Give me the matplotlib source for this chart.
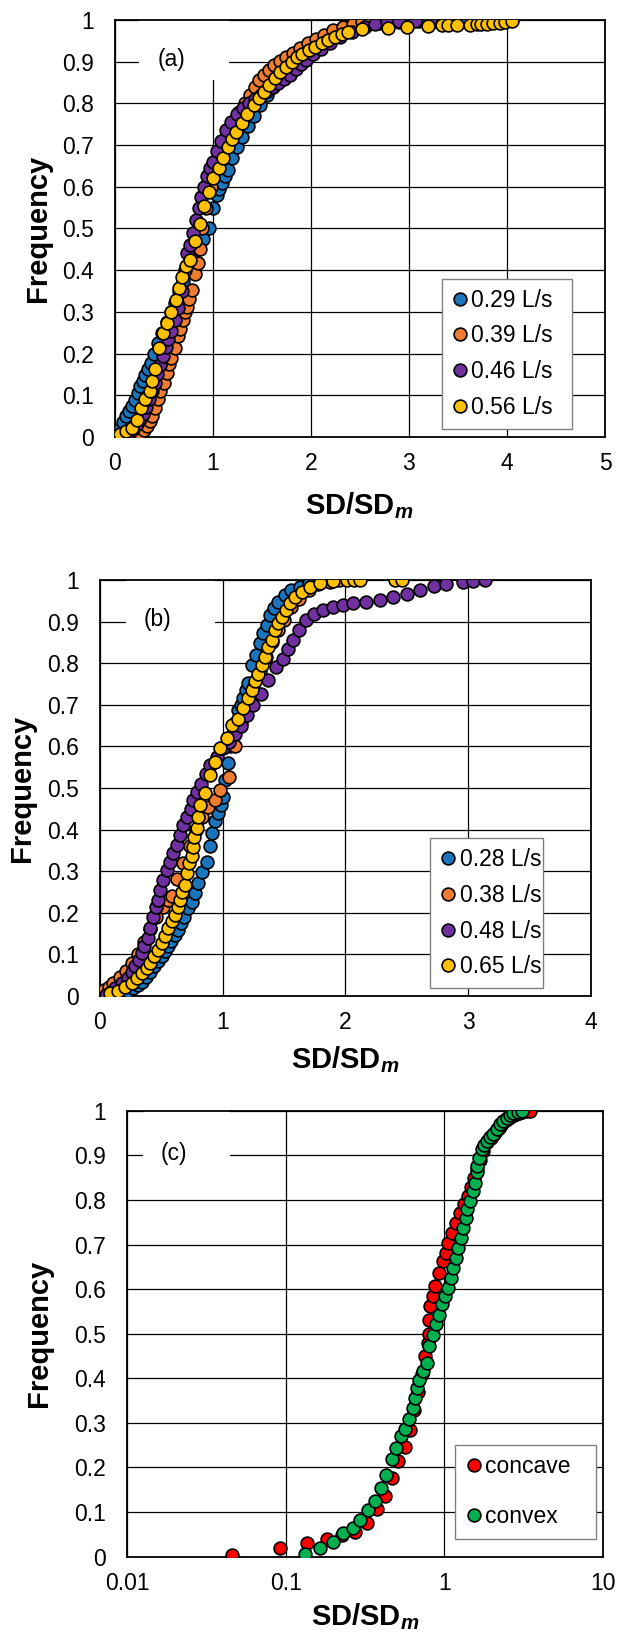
import matplotlib
matplotlib.use("Agg")
import matplotlib.pyplot as plt
from matplotlib.patches import Rectangle

plt.rcParams['font.family'] = ['Liberation Sans', 'DejaVu Sans']
plt.rcParams['mathtext.fontset'] = 'custom'
plt.rcParams['mathtext.rm'] = 'Liberation Sans'
plt.rcParams['mathtext.bf'] = 'Liberation Sans:bold'
plt.rcParams['mathtext.it'] = 'Liberation Sans:italic'
plt.rcParams['mathtext.bfit'] = 'Liberation Sans:bold:italic'

# ---------------- panel (a) ----------------
a_labels = ["0.29 L/s", "0.39 L/s", "0.46 L/s", "0.56 L/s"]

a_blue_x = [0.03, 0.06, 0.09, 0.12, 0.15, 0.18, 0.21, 0.24, 0.26, 0.29, 0.31, 0.34, 0.37, 0.40, 0.44,
            0.48, 0.53, 0.58, 0.62, 0.66, 0.70, 0.75, 0.80, 0.85, 0.90, 0.96, 1.00, 1.04, 1.07, 1.10,
            1.13, 1.16, 1.20, 1.25, 1.30, 1.36, 1.42, 1.48, 1.55, 1.62, 1.70, 1.78, 1.86, 1.95, 2.05,
            2.15, 2.25, 2.35, 2.45, 2.55, 2.70, 2.90, 3.10, 3.28, 3.52]
a_blue_y = [0.005, 0.02, 0.035, 0.05, 0.062, 0.075, 0.089, 0.105, 0.122, 0.135, 0.148, 0.162, 0.178,
            0.20, 0.225, 0.25, 0.275, 0.30, 0.32, 0.35, 0.375, 0.40, 0.425, 0.45, 0.475, 0.50, 0.55,
            0.58, 0.595, 0.61, 0.625, 0.64, 0.67, 0.695, 0.72, 0.745, 0.77, 0.795, 0.82, 0.84, 0.86,
            0.88, 0.90, 0.92, 0.94, 0.955, 0.965, 0.975, 0.985, 0.99, 0.993, 0.995, 0.997, 0.998, 1.0]

a_orange_x = [0.05, 0.12, 0.18, 0.22, 0.26, 0.30, 0.33, 0.36, 0.38, 0.41, 0.44, 0.46, 0.50, 0.53,
              0.56, 0.58, 0.62, 0.65, 0.67, 0.70, 0.72, 0.74, 0.76, 0.79, 0.82, 0.85, 0.87, 0.89,
              0.93, 0.98, 1.04, 1.12, 1.21, 1.27, 1.33, 1.38, 1.43, 1.47, 1.52, 1.57, 1.63, 1.69,
              1.75, 1.82, 1.89, 1.97, 2.05, 2.14, 2.23, 2.33, 2.43, 2.52, 2.60]
a_orange_y = [0.002, 0.004, 0.006, 0.008, 0.009, 0.017, 0.025, 0.037, 0.049, 0.07, 0.09, 0.109, 0.129,
              0.153, 0.175, 0.189, 0.213, 0.241, 0.26, 0.281, 0.30, 0.312, 0.33, 0.352, 0.39, 0.416,
              0.45, 0.50, 0.55, 0.60, 0.65, 0.70, 0.75, 0.78, 0.80, 0.82, 0.84, 0.855, 0.868, 0.879,
              0.891, 0.901, 0.911, 0.92, 0.932, 0.944, 0.955, 0.965, 0.975, 0.984, 0.991, 0.996, 1.0]

a_purple_x = [0.04, 0.10, 0.15, 0.19, 0.23, 0.26, 0.29, 0.32, 0.35, 0.38, 0.41, 0.43, 0.46, 0.49,
              0.52, 0.55, 0.58, 0.62, 0.65, 0.69, 0.72, 0.74, 0.77, 0.80, 0.83, 0.86, 0.88, 0.91,
              0.94, 0.97, 1.00, 1.04, 1.09, 1.14, 1.19, 1.25, 1.31, 1.37, 1.43, 1.49, 1.55, 1.61,
              1.67, 1.73, 1.79, 1.85, 1.90, 1.95, 2.02, 2.10, 2.20, 2.30, 2.42, 2.55, 2.66, 2.78,
              2.90, 3.06, 3.22, 3.42]
a_purple_y = [0.002, 0.006, 0.012, 0.02, 0.03, 0.042, 0.056, 0.072, 0.09, 0.11, 0.13, 0.15, 0.173,
              0.195, 0.215, 0.235, 0.255, 0.28, 0.31, 0.35, 0.40, 0.44, 0.46, 0.49, 0.52, 0.55, 0.575,
              0.60, 0.625, 0.645, 0.66, 0.685, 0.71, 0.735, 0.755, 0.775, 0.79, 0.80, 0.81, 0.82, 0.83,
              0.84, 0.848, 0.858, 0.868, 0.882, 0.895, 0.905, 0.918, 0.93, 0.945, 0.958, 0.97, 0.982,
              0.99, 0.995, 0.997, 0.998, 0.999, 1.0]

a_yellow_x = [0.04, 0.06, 0.12, 0.18, 0.23, 0.27, 0.31, 0.36, 0.38, 0.41, 0.45, 0.49, 0.54, 0.58,
              0.63, 0.66, 0.69, 0.73, 0.77, 0.82, 0.87, 0.91, 0.96, 1.00, 1.06, 1.11, 1.16, 1.20, 1.24,
              1.30, 1.35, 1.42, 1.47, 1.52, 1.57, 1.64, 1.69, 1.75, 1.81, 1.86, 1.91, 1.98, 2.04,
              2.11, 2.18, 2.25, 2.32, 2.38, 2.52, 2.79, 2.98, 3.20, 3.34, 3.40, 3.49, 3.62, 3.69,
              3.74, 3.80, 3.86, 3.93, 3.98, 4.05]
a_yellow_y = [0.002, 0.006, 0.013, 0.021, 0.04, 0.07, 0.09, 0.11, 0.135, 0.164, 0.213, 0.249, 0.274,
              0.30, 0.329, 0.357, 0.383, 0.41, 0.424, 0.47, 0.51, 0.555, 0.588, 0.62, 0.644, 0.668,
              0.696, 0.715, 0.732, 0.752, 0.774, 0.796, 0.812, 0.827, 0.844, 0.86, 0.875, 0.888, 0.90,
              0.91, 0.918, 0.927, 0.936, 0.944, 0.952, 0.96, 0.966, 0.972, 0.978, 0.98, 0.982, 0.986,
              0.987, 0.988, 0.988, 0.989, 0.99, 0.99, 0.991, 0.992, 0.993, 0.994, 0.998]

# ---------------- panel (b) ----------------
b_labels = ["0.28 L/s", "0.38 L/s", "0.48 L/s", "0.65 L/s"]

b_blue_x = [0.10, 0.15, 0.19, 0.231, 0.272, 0.307, 0.339, 0.372, 0.407, 0.443, 0.475, 0.502, 0.53,
            0.551, 0.578, 0.611, 0.638, 0.66, 0.687, 0.72, 0.747, 0.774, 0.801, 0.828, 0.869, 0.895,
            0.915, 0.94, 0.964, 0.985, 1.0, 1.02, 1.04, 1.06, 1.08, 1.10, 1.127, 1.147, 1.167, 1.19,
            1.208, 1.236, 1.27, 1.30, 1.33, 1.363, 1.385, 1.418, 1.453, 1.507, 1.56, 1.63, 1.70, 1.74]
b_blue_y = [0.003, 0.006, 0.009, 0.013, 0.018, 0.026, 0.034, 0.046, 0.058, 0.071, 0.083, 0.095, 0.107,
            0.119, 0.131, 0.147, 0.159, 0.175, 0.191, 0.211, 0.227, 0.247, 0.271, 0.299, 0.323, 0.36,
            0.391, 0.42, 0.441, 0.46, 0.479, 0.52, 0.56, 0.60, 0.63, 0.655, 0.688, 0.70, 0.716, 0.735,
            0.752, 0.796, 0.82, 0.848, 0.872, 0.892, 0.916, 0.932, 0.948, 0.964, 0.976, 0.984, 0.992, 1.0]

b_orange_x = [0.035, 0.07, 0.11, 0.16, 0.21, 0.26, 0.31, 0.36, 0.41, 0.46, 0.51, 0.55, 0.584, 0.63,
              0.68, 0.73, 0.78, 0.83, 0.88, 0.94, 0.98, 1.05, 1.10, 1.15, 1.20, 1.25, 1.30, 1.35,
              1.40, 1.45, 1.50, 1.56, 1.62, 1.70, 1.78, 1.87, 1.95]
b_orange_y = [0.014, 0.022, 0.03, 0.045, 0.06, 0.08, 0.10, 0.13, 0.16, 0.19, 0.215, 0.23, 0.24, 0.28,
              0.32, 0.36, 0.40, 0.43, 0.455, 0.47, 0.495, 0.527, 0.60, 0.655, 0.70, 0.74, 0.78, 0.815,
              0.85, 0.88, 0.905, 0.935, 0.955, 0.975, 0.99, 0.996, 1.0]

b_purple_x = [0.05, 0.09, 0.122, 0.177, 0.231, 0.263, 0.285, 0.318, 0.339, 0.361, 0.388, 0.407, 0.434,
              0.453, 0.475, 0.489, 0.516, 0.543, 0.57, 0.597, 0.625, 0.652, 0.679, 0.71, 0.74, 0.76,
              0.79, 0.82, 0.86, 0.90, 0.95, 1.00, 1.05, 1.10, 1.15, 1.20, 1.25, 1.31, 1.37, 1.43,
              1.49, 1.53, 1.57, 1.62, 1.68, 1.74, 1.82, 1.90, 1.98, 2.06, 2.17, 2.28, 2.39, 2.50,
              2.61, 2.72, 2.82, 2.96, 3.04, 3.14]
b_purple_y = [0.003, 0.01, 0.019, 0.03, 0.042, 0.058, 0.071, 0.087, 0.103, 0.119, 0.139, 0.163, 0.191,
              0.215, 0.231, 0.255, 0.279, 0.303, 0.323, 0.343, 0.363, 0.387, 0.411, 0.43, 0.45, 0.47,
              0.49, 0.51, 0.533, 0.555, 0.575, 0.595, 0.61, 0.63, 0.65, 0.675, 0.70, 0.727, 0.76,
              0.79, 0.81, 0.835, 0.855, 0.88, 0.905, 0.918, 0.928, 0.936, 0.94, 0.944, 0.948, 0.952,
              0.958, 0.966, 0.976, 0.986, 0.99, 0.994, 0.997, 1.0]

b_yellow_x = [0.081, 0.149, 0.204, 0.258, 0.299, 0.339, 0.38, 0.407, 0.443, 0.475, 0.502, 0.53, 0.557,
              0.584, 0.611, 0.633, 0.652, 0.671, 0.692, 0.706, 0.725, 0.747, 0.76, 0.769, 0.788, 0.80,
              0.815, 0.855, 0.896, 0.937, 0.978, 1.032, 1.073, 1.127, 1.168, 1.208, 1.236, 1.263,
              1.29, 1.317, 1.344, 1.371, 1.399, 1.426, 1.453, 1.48, 1.515, 1.548, 1.589, 1.643,
              1.711, 1.792, 1.90, 2.01, 2.07, 2.12, 2.40, 2.46]
b_yellow_y = [0.006, 0.013, 0.022, 0.03, 0.042, 0.054, 0.066, 0.079, 0.095, 0.111, 0.127, 0.143, 0.163,
              0.179, 0.195, 0.213, 0.231, 0.251, 0.267, 0.295, 0.319, 0.336, 0.359, 0.383, 0.403, 0.43,
              0.459, 0.487, 0.531, 0.563, 0.595, 0.619, 0.651, 0.667, 0.692, 0.716, 0.736, 0.756,
              0.773, 0.796, 0.816, 0.84, 0.856, 0.88, 0.896, 0.912, 0.928, 0.944, 0.96, 0.972,
              0.984, 0.992, 0.998, 1.0, 1.0, 1.0, 1.0, 1.0]

# ---------------- panel (c) ----------------
c_labels = ["concave", "convex"]

c_red_x = [0.0457, 0.092, 0.137, 0.181, 0.225, 0.274, 0.324, 0.375, 0.423, 0.466, 0.513, 0.565, 0.608,
           0.64, 0.68, 0.72, 0.76, 0.79, 0.80, 0.805, 0.813, 0.845, 0.873, 0.93, 0.986, 1.026, 1.06,
           1.114, 1.185, 1.256, 1.33, 1.40, 1.47, 1.54, 1.61, 1.68, 1.76, 1.86, 1.98, 2.06, 2.12,
           2.20, 2.28, 2.36, 2.45, 2.55, 2.65, 2.75, 2.85, 2.97, 3.1, 3.25, 3.47]
c_red_y = [0.004, 0.019, 0.030, 0.039, 0.049, 0.056, 0.075, 0.107, 0.135, 0.176, 0.214, 0.247, 0.285,
           0.33, 0.37, 0.41, 0.45, 0.48, 0.50, 0.53, 0.562, 0.585, 0.607, 0.637, 0.663, 0.682, 0.704,
           0.727, 0.749, 0.772, 0.79, 0.81, 0.83, 0.85, 0.87, 0.89, 0.91, 0.93, 0.94, 0.948, 0.955,
           0.962, 0.968, 0.974, 0.979, 0.984, 0.988, 0.991, 0.994, 0.996, 0.998, 0.999, 1.0]

c_green_x = [0.1324, 0.164, 0.1995, 0.2307, 0.2667, 0.294, 0.332, 0.366, 0.397, 0.429, 0.466, 0.495,
             0.531, 0.565, 0.601, 0.631, 0.653, 0.669, 0.695, 0.737, 0.775, 0.804, 0.853, 0.887,
             0.931, 0.964, 1.01, 1.06, 1.096, 1.14, 1.185, 1.225, 1.268, 1.318, 1.37, 1.397, 1.452,
             1.51, 1.562, 1.60, 1.614, 1.663, 1.72, 1.78, 1.85, 1.94, 2.04, 2.14, 2.24, 2.35, 2.47,
             2.60, 2.72, 2.90, 3.08]
c_green_y = [0.006, 0.019, 0.032, 0.054, 0.065, 0.082, 0.105, 0.124, 0.154, 0.184, 0.219, 0.244, 0.27,
             0.286, 0.309, 0.333, 0.356, 0.378, 0.397, 0.416, 0.435, 0.472, 0.498, 0.521, 0.543,
             0.566, 0.584, 0.603, 0.626, 0.648, 0.671, 0.693, 0.715, 0.738, 0.76, 0.779, 0.798, 0.82,
             0.839, 0.862, 0.876, 0.895, 0.914, 0.924, 0.933, 0.941, 0.948, 0.959, 0.97, 0.978,
             0.985, 0.991, 0.996, 0.998, 1.0]

blue = "#1A75BC"
orange = "#EE7D31"
purple = "#7030A0"
yellow = "#FFC000"
red = "#FF0000"
green = "#00B050"

fs_tick = 16.5
fs_label = 21

fig = plt.figure(figsize=(6.18, 16.37), dpi=100)
ax_a = fig.add_axes([0.1853, 0.7331, 0.7937, 0.2547])
ax_b = fig.add_axes([0.1618, 0.3916, 0.7945, 0.2541])
ax_c = fig.add_axes([0.2055, 0.0491, 0.7702, 0.2723])


def style(ax, tag, box_x, ylab_x, xlab_y):
    ax.set_ylim(0, 1)
    ax.set_yticks([i / 10 for i in range(11)])
    ax.set_yticklabels(["0"] + ["0.%d" % i for i in range(1, 10)] + ["1"])
    ax.set_axisbelow(True)
    ax.grid(True, color="black", lw=0.9)
    ax.tick_params(length=0, labelsize=fs_tick)
    ax.tick_params(axis="y", pad=15)
    ax.tick_params(axis="x", pad=11)
    for s in ax.spines.values():
        s.set_linewidth(1.3)
        s.set_color("black")
    ax.add_patch(Rectangle((box_x, 0.857), 0.183, 0.143, transform=ax.transAxes,
                           facecolor="white", edgecolor="none", zorder=1))
    ax.text(box_x + 0.066, 0.905, tag, transform=ax.transAxes, fontsize=fs_tick,
            ha="center", va="center", zorder=5)
    ax.text(ylab_x, 0.5, "Frequency", transform=ax.transAxes, rotation=90,
            fontsize=fs_label, fontweight="bold", ha="center", va="center")
    ax.text(0.5, xlab_y, r"SD/SD$_{\mathbfit{m}}$", transform=ax.transAxes,
            fontsize=fs_label, fontweight="bold", ha="center", va="center")


def dots(ax, x, y, c, lab):
    ax.plot(x, y, linestyle="none", marker="o", ms=9.2, mfc=c, mec="black", mew=1.2,
            label=lab, zorder=3)


# panel (a)
dots(ax_a, a_blue_x, a_blue_y, blue, a_labels[0])
dots(ax_a, a_orange_x, a_orange_y, orange, a_labels[1])
dots(ax_a, a_purple_x, a_purple_y, purple, a_labels[2])
dots(ax_a, a_yellow_x, a_yellow_y, yellow, a_labels[3])
ax_a.set_xlim(0, 5)
ax_a.set_xticks([0, 1, 2, 3, 4, 5])
style(ax_a, "(a)", 0.05, -0.157, -0.165)

# panel (b)
dots(ax_b, b_blue_x, b_blue_y, blue, b_labels[0])
dots(ax_b, b_orange_x, b_orange_y, orange, b_labels[1])
dots(ax_b, b_purple_x, b_purple_y, purple, b_labels[2])
dots(ax_b, b_yellow_x, b_yellow_y, yellow, b_labels[3])
ax_b.set_xlim(0, 4)
ax_b.set_xticks([0, 1, 2, 3, 4])
style(ax_b, "(b)", 0.052, -0.159, -0.154)

# panel (c)
dots(ax_c, c_red_x, c_red_y, red, c_labels[0])
dots(ax_c, c_green_x, c_green_y, green, c_labels[1])
ax_c.set_xscale("log")
ax_c.set_xlim(0.01, 10)
ax_c.set_xticks([0.01, 0.1, 1, 10])
ax_c.set_xticklabels(["0.01", "0.1", "1", "10"])
ax_c.minorticks_off()
style(ax_c, "(c)", 0.033, -0.184, -0.135)

legend_kw = dict(loc="lower left", mode="expand", frameon=True, fancybox=False, framealpha=1,
                 edgecolor="#808080", fontsize=fs_tick, handlelength=0.7, handletextpad=0.15,
                 borderaxespad=0, borderpad=0.45)
for ax, box, sp in [(ax_a, (0.667, 0.019, 0.266, 0.354), 0.55),
                    (ax_b, (0.672, 0.018, 0.231, 0.354), 0.55),
                    (ax_c, (0.690, 0.040, 0.295, 0.232), 1.2)]:
    leg = ax.legend(bbox_to_anchor=box, labelspacing=sp, **legend_kw)
    leg.get_frame().set_linewidth(1.0)
    leg.set_zorder(6)

fig.savefig("out.png", dpi=100)
